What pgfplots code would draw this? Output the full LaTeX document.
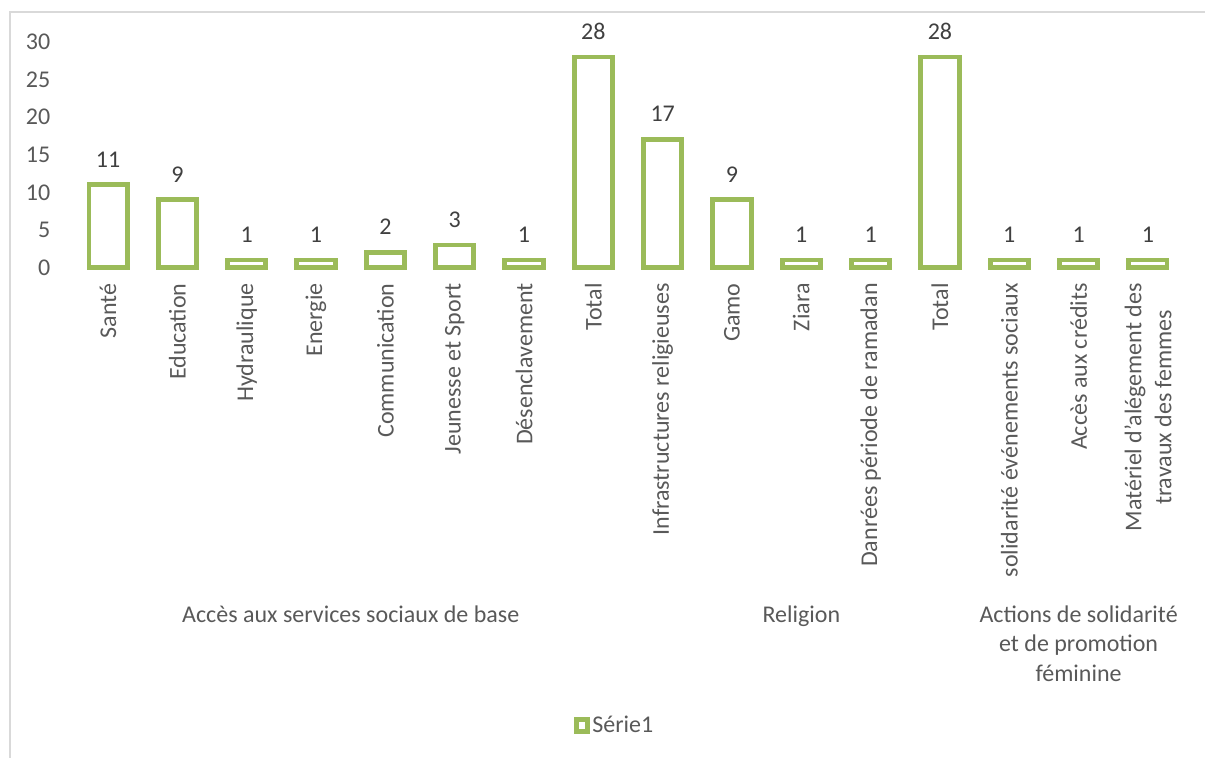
\documentclass[border=0pt]{standalone}
\usepackage{fontspec}
\setmainfont{Carlito}
\usepackage{pgfplots}
\pgfplotsset{compat=1.18}
\definecolor{barg}{HTML}{9BBB59}
\definecolor{tgray}{HTML}{595959}
\definecolor{dgray}{HTML}{404040}
\definecolor{bgray}{HTML}{D9D9D9}
\begin{document}
\begin{tikzpicture}
\useasboundingbox (0pt,0pt) rectangle (602.5pt,-379pt);
\draw[bgray, line width=0.75pt] (603pt,-6pt) -- (5pt,-6pt) -- (5pt,-380pt);
\begin{axis}[
  at={(36.7pt,-133.75pt)}, anchor=south west,
  scale only axis, width=554.6pt, height=112.75pt,
  xmin=-0.5, xmax=15.5, ymin=0, ymax=30,
  ybar, bar width=19.15pt,
  clip=false,
  axis line style={draw=none},
  major tick length=0pt,
  tick style={draw=none},
  ytick={0,5,...,30},
  xtick={0,...,15},
  xticklabels={Santé, Education, Hydraulique, Energie, Communication, Jeunesse et Sport, Désenclavement, Total, Infrastructures religieuses, Gamo, Ziara, Danrées période de ramadan, Total, solidarité événements sociaux, Accès aux crédits, {Matériel d'alégement des\\travaux des femmes}},
  /pgf/number format/assume math mode=true,
  tick label style={font=\fontsize{12}{15}\selectfont, text=tgray},
  yticklabel style={inner sep=0pt, xshift=-11.35pt},
  xticklabel style={rotate=90, anchor=east, inner sep=0pt, align=center},
  xticklabel shift=7.75pt,
  nodes near coords,
  nodes near coords style={font=\fontsize{12}{14}\selectfont, text=dgray, anchor=center, yshift=12.75pt},
  legend style={draw=none, fill=none, at={(0.4878,-2.031)}, anchor=center, font=\fontsize{12}{14}\selectfont, text=tgray, inner sep=0pt, nodes={inner sep=1pt}},
  legend cell align=left,
]
\addplot[draw=barg, fill=white, line width=2.4pt,
  legend image code/.code={\draw[barg, fill=white, line width=2.6pt] (0pt,-2.9pt) rectangle (5.8pt,2.9pt);}]
  coordinates {(0,11) (1,9) (2,1) (3,1) (4,2) (5,3) (6,1) (7,28) (8,17) (9,9) (10,1) (11,1) (12,28) (13,1) (14,1) (15,1)};
\addlegendentry{Série1}
\node[anchor=base, text=tgray, font=\fontsize{12}{15}\selectfont] at (axis cs:3.5,-47.23) {Accès aux services sociaux de base};
\node[anchor=base, text=tgray, font=\fontsize{12}{15}\selectfont] at (axis cs:10,-47.23) {Religion};
\node[anchor=base, text=tgray, font=\fontsize{12}{15}\selectfont] at (axis cs:14,-47.23) {Actions de solidarité};
\node[anchor=base, text=tgray, font=\fontsize{12}{15}\selectfont] at (axis cs:14,-51.15) {et de promotion};
\node[anchor=base, text=tgray, font=\fontsize{12}{15}\selectfont] at (axis cs:14,-55.08) {féminine};
\end{axis}
\end{tikzpicture}
\end{document}
